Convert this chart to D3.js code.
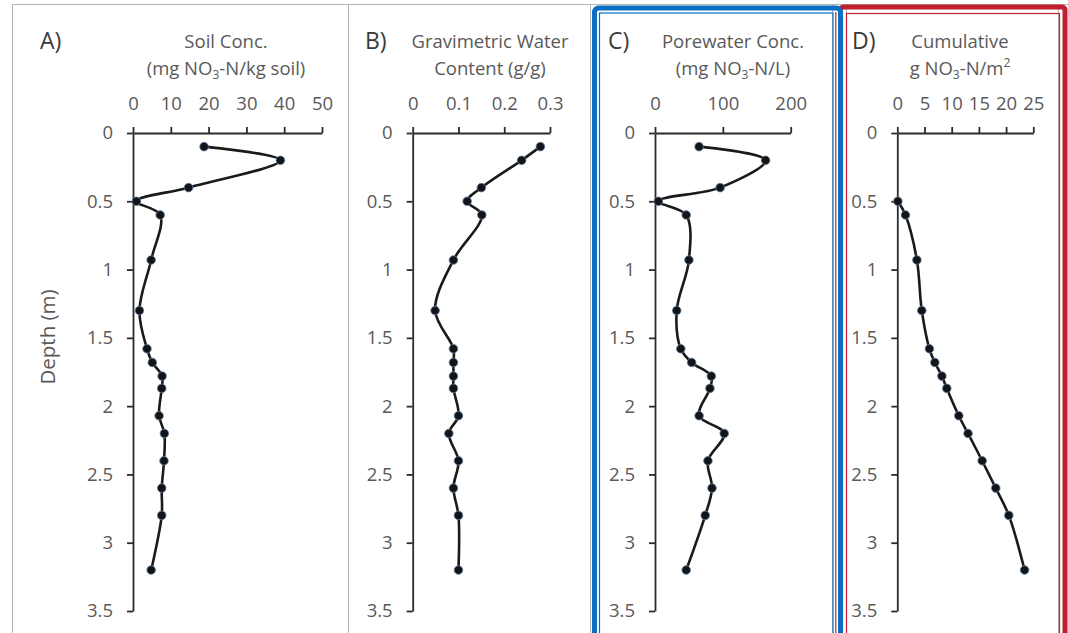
<!DOCTYPE html>
<html>
<head>
<meta charset="utf-8">
<script src="https://cdn.jsdelivr.net/npm/d3@7"></script>
<style>
  body { margin: 0; background: #fff; }
  svg { display: block; font-family: "Open Sans", sans-serif; }
</style>
</head>
<body>
<div id="chart"></div>
<script>
// depth of each sample (m)
var depth = [0.1, 0.2, 0.4, 0.5, 0.6, 0.93, 1.3, 1.58, 1.68, 1.78, 1.87, 2.07, 2.2, 2.4, 2.6, 2.8, 3.2]

// A) soil conc, mg NO3-N/kg soil
var soilConc = [18.8, 39.0, 14.7, 0.9, 7.2, 4.8, 1.7, 3.7, 5.1, 7.7, 7.6, 6.9, 8.3, 8.2, 7.6, 7.6, 4.8]
// B) gravimetric water content, g/g
var waterContent = [0.279, 0.238, 0.150, 0.119, 0.151, 0.089, 0.049, 0.089, 0.089, 0.089, 0.089, 0.100, 0.079, 0.100, 0.089, 0.100, 0.100]
// C) porewater conc, mg NO3-N/L
var poreConc = [65, 163, 96, 5, 46, 50, 32, 38, 54, 83, 81, 65, 102, 78, 84, 74, 46]
// D) cumulative g NO3-N/m2 (no values above 0.5 m)
var cumulative = [null, null, null, 0.1, 1.5, 3.6, 4.5, 5.9, 6.9, 8.2, 9.1, 11.3, 13.0, 15.6, 18.1, 20.5, 23.4]

var depthTicks = [0, 0.5, 1, 1.5, 2, 2.5, 3, 3.5]
var soilTicks = [0, 10, 20, 30, 40, 50]
var waterTicks = [0, 0.1, 0.2, 0.3]
var poreTicks = [0, 100, 200]
var cumTicks = [0, 5, 10, 15, 20, 25]

var width = 1068
var height = 633
var fs = 18.5

var svg = d3.select('#chart').append('svg')
    .attr('width', width)
    .attr('height', height)

// shared depth scale
var y = d3.scaleLinear().domain([0, 3.5]).range([133, 611])

var panels = [
    { tag: 'A)', tagX: 40, x0: 133, x1: 322, titleX: 226, values: soilConc, ticks: soilTicks,
      title: [[{ t: 'Soil Conc.' }], [{ t: '(mg NO' }, { t: '3', sub: true }, { t: '-N/kg soil)' }]] },
    { tag: 'B)', tagX: 365, x0: 412.7, x1: 550, titleX: 490, values: waterContent, ticks: waterTicks,
      title: [[{ t: 'Gravimetric Water' }], [{ t: 'Content (g/g)' }]] },
    { tag: 'C)', tagX: 608, x0: 655, x1: 790.7, titleX: 733, values: poreConc, ticks: poreTicks,
      title: [[{ t: 'Porewater Conc.' }], [{ t: '(mg NO' }, { t: '3', sub: true }, { t: '-N/L)' }]] },
    { tag: 'D)', tagX: 852, x0: 897.3, x1: 1033.3, titleX: 960, values: cumulative, ticks: cumTicks,
      title: [[{ t: 'Cumulative' }], [{ t: 'g NO' }, { t: '3', sub: true }, { t: '-N/m' }, { t: '2', sup: true }]] }
]

// frames behind everything
var frames = svg.append('g')
frames.append('line').attr('x1', 12).attr('x2', 1068).attr('y1', 4.5).attr('y2', 4.5)
    .attr('stroke', '#b4b4b4')
;[12.5, 348.5, 590.5, 832.5, 846.5, 1058.5].forEach(function (xx) {
    frames.append('line').attr('x1', xx).attr('x2', xx).attr('y1', 4.5).attr('y2', height)
        .attr('stroke', '#b4b4b4')
})

// red box (D)
frames.append('rect').attr('x', 840.5).attr('y', 7).attr('width', 224.5).attr('height', 660)
    .attr('rx', 3).attr('fill', 'none').attr('stroke', '#c01f2f').attr('stroke-width', 5)
frames.append('rect').attr('x', 846.5).attr('y', 13.5).attr('width', 213).attr('height', 660)
    .attr('fill', 'none').attr('stroke', '#c01f2f').attr('stroke-width', 1.2)
frames.append('line').attr('x1', 835.8).attr('x2', 835.8).attr('y1', 12).attr('y2', height)
    .attr('stroke', '#c01f2f').attr('stroke-width', 1.2)

// blue box (C)
frames.append('rect').attr('x', 594.5).attr('y', 8).attr('width', 246).attr('height', 660)
    .attr('rx', 4).attr('fill', 'none').attr('stroke', '#0a6fc2').attr('stroke-width', 5)
frames.append('rect').attr('x', 599.5).attr('y', 13).attr('width', 233.5).attr('height', 660)
    .attr('fill', 'none').attr('stroke', '#0a6fc2').attr('stroke-width', 1.2)

var line = d3.line()
    .defined(function (d) { return d.v != null })
    .curve(d3.curveCatmullRom.alpha(0.5))

panels.forEach(function (p) {
    var x = d3.scaleLinear().domain([p.ticks[0], p.ticks[p.ticks.length - 1]]).range([p.x0, p.x1])
    var g = svg.append('g')

    // panel letter
    g.append('text')
        .attr('x', p.tagX).attr('y', 49)
        .attr('font-size', 23).attr('fill', '#3a3a3a')
        .text(p.tag)

    // title, two lines with sub/superscripts
    p.title.forEach(function (segs, i) {
        var t = g.append('text')
            .attr('x', p.titleX).attr('y', 48 + i * 27)
            .attr('text-anchor', 'middle')
            .attr('font-size', fs).attr('fill', '#595959')
        var shift = 0
        segs.forEach(function (s) {
            var target = s.sub ? 4 : (s.sup ? -8 : 0)
            var ts = t.append('tspan').text(s.t).attr('dy', target - shift)
            if (s.sub || s.sup) ts.attr('font-size', 12)
            shift = target
        })
    })

    var xAxis = d3.axisTop(x).tickValues(p.ticks).tickSize(6).tickSizeOuter(0).tickPadding(17)
        .tickFormat(function (d) { return String(d) })
    var yAxis = d3.axisLeft(y).tickValues(depthTicks).tickSize(6).tickSizeOuter(0).tickPadding(14)
        .tickFormat(function (d) { return String(d) })

    var gx = g.append('g').attr('transform', 'translate(0,' + y(0) + ')').call(xAxis)
    var gy = g.append('g').attr('transform', 'translate(' + x(0) + ',0)').call(yAxis)
    ;[gx, gy].forEach(function (ax) {
        ax.selectAll('path, line').attr('stroke', '#2b2b2b').attr('stroke-width', 1.8)
        ax.selectAll('text').attr('fill', '#595959').attr('font-size', fs)
            .attr('font-family', '"Open Sans", sans-serif')
    })

    var pts = depth.map(function (d, i) { return { v: p.values[i], d: d } })
    line.x(function (d) { return x(d.v) }).y(function (d) { return y(d.d) })

    g.append('path')
        .datum(pts)
        .attr('d', line)
        .attr('fill', 'none')
        .attr('stroke', '#1a1a1a')
        .attr('stroke-width', 2.6)

    g.selectAll('circle')
        .data(pts.filter(function (d) { return d.v != null }))
        .enter()
        .append('circle')
        .attr('cx', function (d) { return x(d.v) })
        .attr('cy', function (d) { return y(d.d) })
        .attr('r', 4.3)
        .attr('fill', '#141414')
        .attr('stroke', '#5b7fa8')
        .attr('stroke-width', 0.8)
})

// depth label
svg.append('text')
    .attr('transform', 'translate(55,337) rotate(-90)')
    .attr('text-anchor', 'middle')
    .attr('font-size', 20.5).attr('fill', '#595959')
    .text('Depth (m)')
</script>
</body>
</html>
